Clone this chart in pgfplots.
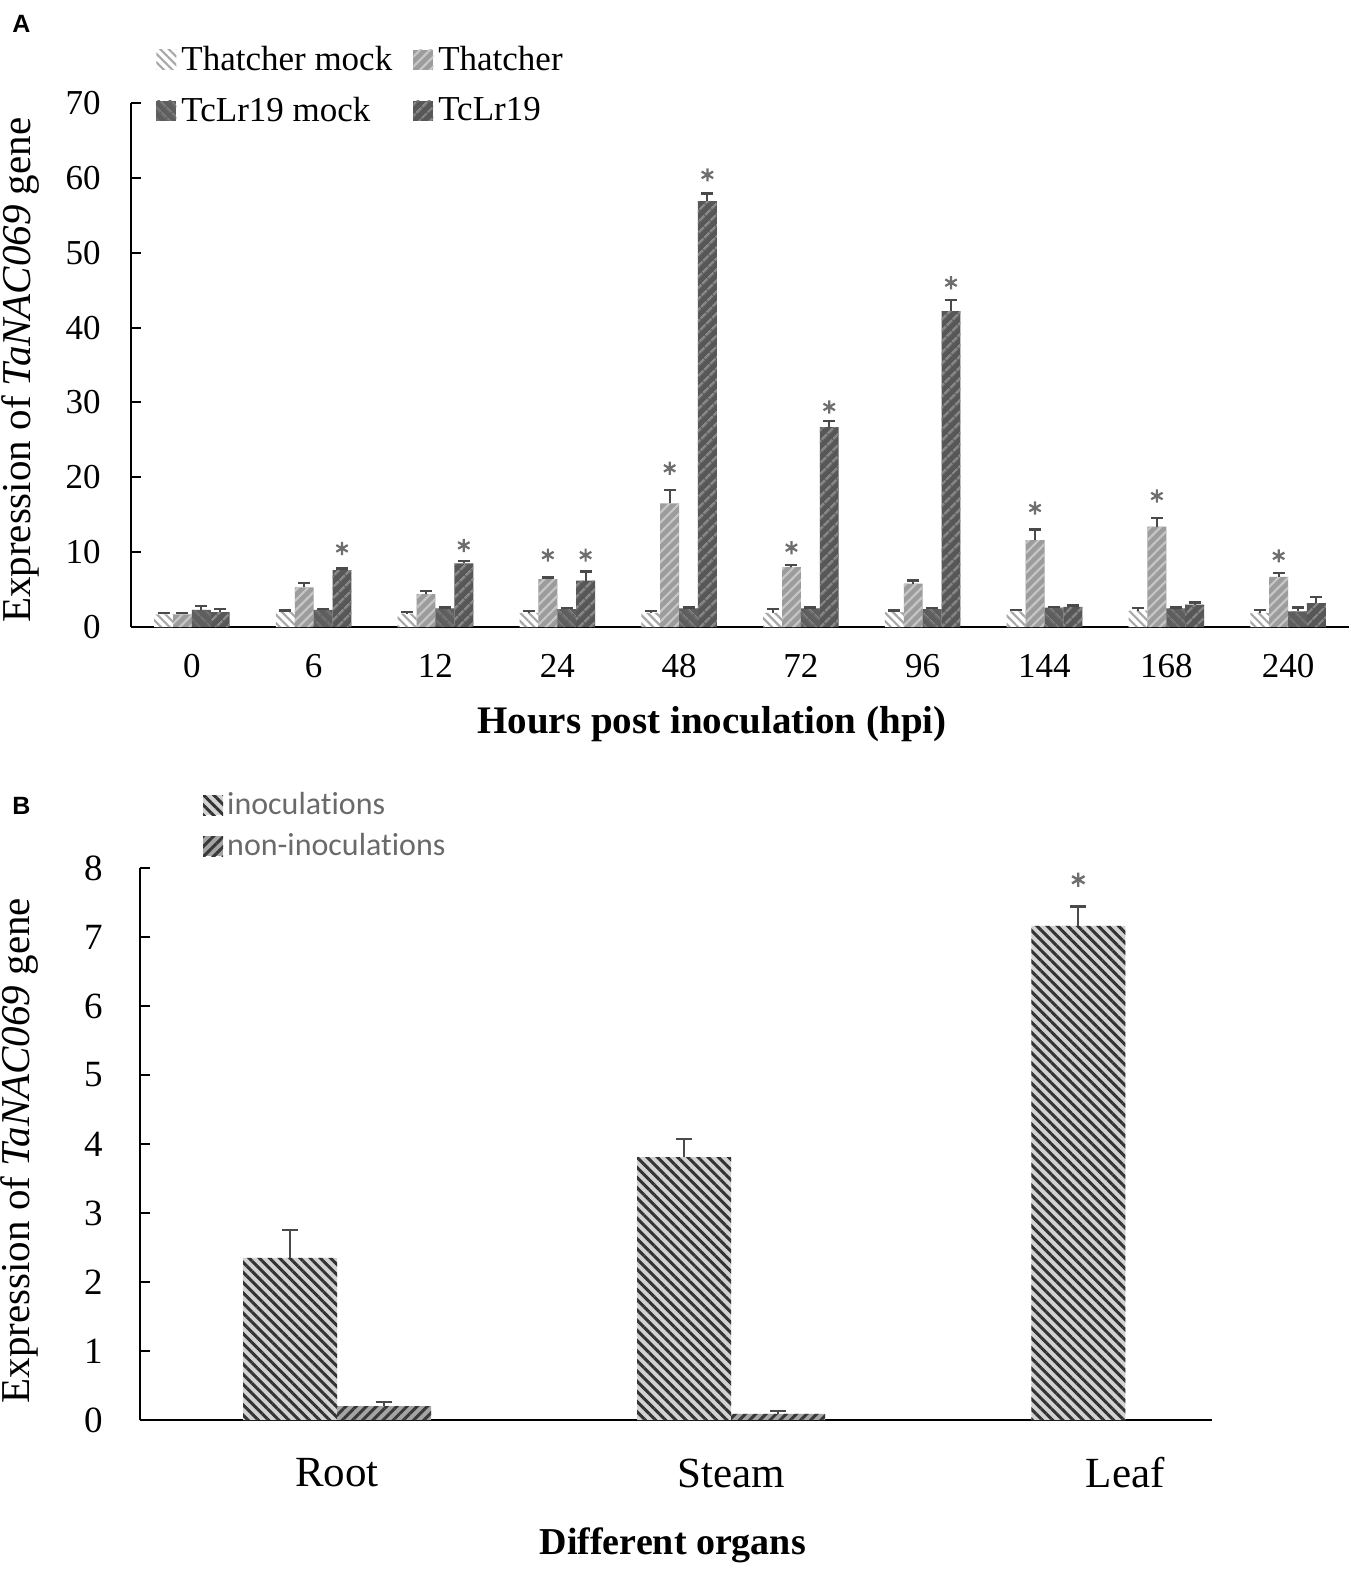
\documentclass[border=0pt]{standalone}
\usepackage{fontspec}
\setmainfont{Liberation Serif}
\newfontfamily\arialfont{Liberation Sans}
\newfontfamily\calibrifont[Ligatures=NoCommon]{Carlito}
\usepackage{pgfplots}
\pgfplotsset{compat=1.18}
\usetikzlibrary{patterns.meta}

\definecolor{tmfill}{HTML}{FFFFFF}
\definecolor{tmline}{HTML}{A8A8A8}
\definecolor{thfill}{HTML}{9C9C9C}
\definecolor{thline}{HTML}{C6C6C6}
\definecolor{tcmfill}{HTML}{5E5E5E}
\definecolor{tcmline}{HTML}{707070}
\definecolor{tcfill}{HTML}{575757}
\definecolor{tcline}{HTML}{858585}
\definecolor{errc}{HTML}{4A4A4A}
\definecolor{starc}{HTML}{6E6E6E}
\definecolor{inocfill}{HTML}{D2D2D2}
\definecolor{inocline}{HTML}{333333}
\definecolor{nonfill}{HTML}{A4A4A4}
\definecolor{nonline}{HTML}{383838}
\definecolor{legB}{HTML}{6A6A6A}

\pgfplotsset{
  sqbar/.style={ybar, draw=none, bar shift=0pt,
    legend image code/.code={\path[##1,draw=none] (0pt,-5pt) rectangle (10pt,5pt);}},
  errA/.style={error bars/.cd, y dir=plus, y explicit,
    error bar style={errc,line width=1pt},
    error mark options={rotate=90,mark size=3pt,errc,line width=1.2pt}},
  errB/.style={error bars/.cd, y dir=plus, y explicit,
    error bar style={errc,line width=1.1pt},
    error mark options={rotate=90,mark size=4pt,errc,line width=1.2pt}},
}

\begin{document}
\begin{tikzpicture}
\useasboundingbox (0pt,0pt) rectangle (675pt,-784.5pt);

\node[font=\arialfont\bfseries\fontsize{12.5}{14}\selectfont, anchor=center] at (10.75pt,-11.75pt) {A};
\node[font=\arialfont\bfseries\fontsize{12.5}{14}\selectfont, anchor=center] at (10.75pt,-403pt) {B};

% ---------------- Panel A ----------------
\begin{axis}[
  scale only axis, width=609pt, height=262pt,
  at={(65.5pt,-313.5pt)}, anchor=south west,
  xmin=-0.5, xmax=9.5, ymin=0, ymax=70,
  axis lines*=left, axis line style={line width=1pt, black},
  xtick={0,...,9}, xticklabels={0,6,12,24,48,72,96,144,168,240},
  x tick style={draw=none},
  ytick={0,10,...,70}, tick align=inside, major tick length=5pt,
  y tick style={line width=1pt, black},
  tick label style={font=\fontsize{17.5}{21}\selectfont},
  /pgf/number format/assume math mode=true,
  xticklabel style={anchor=center, yshift=-19.5pt},
  yticklabel style={anchor=east, inner sep=0pt, xshift=-15pt},
  xlabel={\bfseries Hours post inoculation (hpi)},
  xlabel style={at={(axis description cs:0.477,-0.185)}, anchor=center, font=\fontsize{19.5}{23}\selectfont},
  ylabel={Expression of \textit{TaNAC069} gene},
  ylabel style={at={(axis description cs:-0.0911,0.49)}, anchor=center, font=\fontsize{20.5}{24}\selectfont},
  clip=false,
  legend columns=2, legend cell align=left,
  legend style={at={(axis description cs:0.0156,1.127)}, anchor=north west, draw=none, fill=none,
    font=\fontsize{17.5}{21}\selectfont, nodes={inner sep=2.5pt},
    /tikz/every even column/.append style={column sep=8pt}, /tikz/row sep=7pt},
]
\addplot[sqbar, bar width=0.155, fill=tmfill,
  postaction={pattern={Lines[angle=-45,distance=3pt,line width=1.1pt]}, pattern color=tmline}, errA]
  coordinates {(-0.2325,1.7)+-(0,0.2) (0.7675,2.0)+-(0,0.2) (1.7675,1.8)+-(0,0.2) (2.7675,1.9)+-(0,0.2) (3.7675,1.9)+-(0,0.2)
               (4.7675,1.9)+-(0,0.5) (5.7675,2.0)+-(0,0.2) (6.7675,2.1)+-(0,0.2) (7.7675,2.2)+-(0,0.3) (8.7675,1.9)+-(0,0.4)};
\addlegendentry{Thatcher mock}
\addplot[sqbar, bar width=0.155, fill=thfill,
  postaction={pattern={Lines[angle=45,distance=3.5pt,line width=1.1pt]}, pattern color=thline}, errA]
  coordinates {(-0.0775,1.7)+-(0,0.2) (0.9225,5.3)+-(0,0.6) (1.9225,4.4)+-(0,0.4) (2.9225,6.4)+-(0,0.2) (3.9225,16.5)+-(0,1.8)
               (4.9225,8.0)+-(0,0.3) (5.9225,5.8)+-(0,0.4) (6.9225,11.6)+-(0,1.4) (7.9225,13.4)+-(0,1.2) (8.9225,6.7)+-(0,0.5)};
\addlegendentry{Thatcher}
\addplot[sqbar, bar width=0.155, fill=tcmfill,
  postaction={pattern={Lines[angle=-45,distance=4pt,line width=1.1pt]}, pattern color=tcmline}, errA]
  coordinates {(0.0775,2.3)+-(0,0.5) (1.0775,2.3)+-(0,0.1) (2.0775,2.5)+-(0,0.1) (3.0775,2.4)+-(0,0.1) (4.0775,2.5)+-(0,0.1)
               (5.0775,2.5)+-(0,0.1) (6.0775,2.4)+-(0,0.1) (7.0775,2.6)+-(0,0.1) (8.0775,2.5)+-(0,0.1) (9.0775,2.1)+-(0,0.5)};
\addlegendentry{TcLr19 mock}
\addplot[sqbar, bar width=0.155, fill=tcfill,
  postaction={pattern={Lines[angle=45,distance=4pt,line width=1.1pt]}, pattern color=tcline}, errA]
  coordinates {(0.2325,2.0)+-(0,0.4) (1.2325,7.6)+-(0,0.2) (2.2325,8.5)+-(0,0.3) (3.2325,6.2)+-(0,1.2) (4.2325,56.9)+-(0,1.0)
               (5.2325,26.7)+-(0,0.8) (6.2325,42.2)+-(0,1.5) (7.2325,2.7)+-(0,0.2) (8.2325,3.0)+-(0,0.3) (9.2325,3.2)+-(0,0.8)};
\addlegendentry{TcLr19}
% significance asterisks
\addplot[forget plot, only marks, mark=asterisk, mark size=3.3pt, mark options={starc, line width=1.1pt}]
  coordinates {(1.2325,10.5) (2.2325,10.9) (2.9225,9.6) (3.2325,9.6) (3.9225,21.2) (4.2325,60.4)
               (4.9225,10.6) (5.2325,29.4) (6.2325,46.0) (6.9225,15.9) (7.9225,17.5) (8.9225,9.5)};
\end{axis}

% ---------------- Panel B ----------------
\begin{axis}[
  scale only axis, width=536pt, height=276pt,
  at={(70pt,-710pt)}, anchor=south west,
  xmin=-0.5, xmax=2.22, ymin=0, ymax=8,
  axis lines*=left, axis line style={line width=1pt, black},
  xtick={0,1,2}, xticklabels={Root,Steam,Leaf},
  x tick style={draw=none},
  ytick={0,...,8}, tick align=inside, major tick length=5pt,
  y tick style={line width=1pt, black},
  yticklabel style={font=\fontsize{18.5}{22}\selectfont, anchor=east, inner sep=0pt, xshift=-18.5pt},
  xticklabel style={font=\fontsize{21.5}{25}\selectfont, anchor=center, yshift=-26.5pt},
  /pgf/number format/assume math mode=true,
  xlabel={\bfseries Different organs},
  xlabel style={at={(axis description cs:0.497,-0.2264)}, anchor=center, font=\fontsize{19}{23}\selectfont},
  ylabel={Expression of \textit{TaNAC069} gene},
  ylabel style={at={(axis description cs:-0.112,0.488)}, anchor=center, font=\fontsize{20.5}{24}\selectfont},
  clip=false,
  legend columns=1, legend cell align=left,
  legend style={at={(axis description cs:0.053,1.152)}, anchor=north west, draw=none, fill=none,
    font=\calibrifont\fontsize{16}{19}\selectfont, text=legB, nodes={inner sep=2pt},
    /tikz/row sep=4pt},
]
\addplot[sqbar, bar width=0.2386, fill=inocfill,
  postaction={pattern={Lines[angle=-45,distance=3.6pt,line width=1.5pt]}, pattern color=inocline}, errB]
  coordinates {(-0.1193,2.35)+-(0,0.40) (0.8807,3.81)+-(0,0.26) (1.8807,7.16)+-(0,0.28)};
\addlegendentry{inoculations}
\addplot[sqbar, bar width=0.2386, fill=nonfill,
  postaction={pattern={Lines[angle=45,distance=3.6pt,line width=1.5pt]}, pattern color=nonline}, errB]
  coordinates {(0.1193,0.20)+-(0,0.06) (1.1193,0.09)+-(0,0.04)};
\addlegendentry{non-inoculations}
\addplot[forget plot, only marks, mark=asterisk, mark size=3.6pt, mark options={starc, line width=1.2pt}]
  coordinates {(1.8807,7.83)};
\end{axis}
\end{tikzpicture}
\end{document}
